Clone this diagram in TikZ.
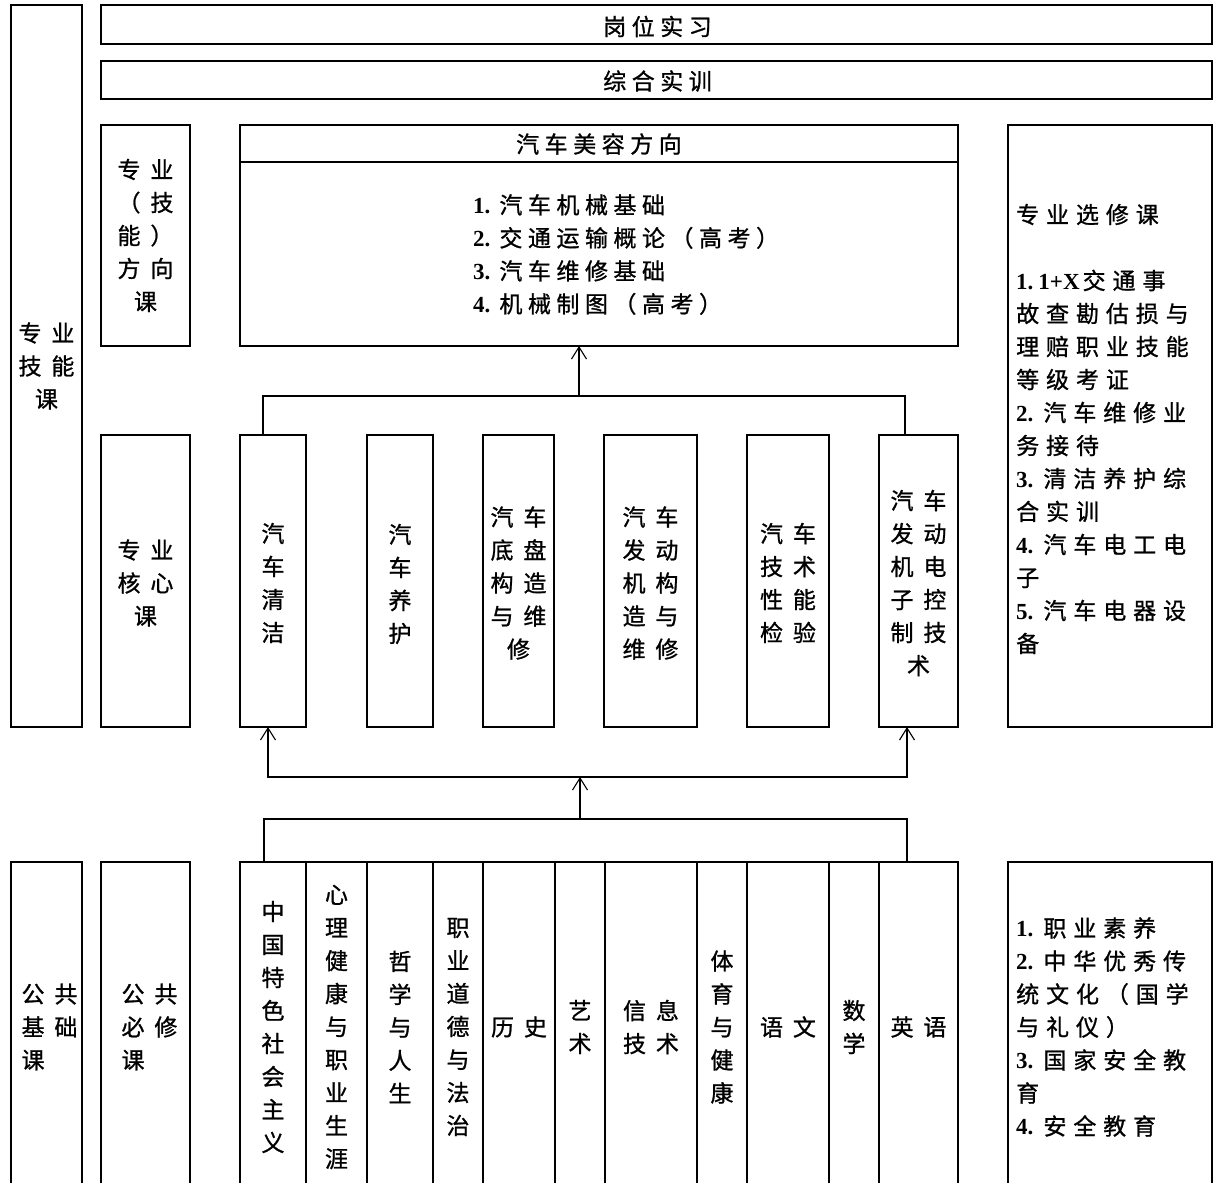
\documentclass[tikz,border=0pt]{standalone}
\usepackage{fontspec}
\usetikzlibrary{arrows.meta}
\newfontfamily\cjkA[LetterSpace=43,FakeBold=1]{Noto Sans CJK SC}
\newfontfamily\cjkB[LetterSpace=24,FakeBold=1]{Noto Sans CJK SC}
\newfontfamily\cjkC[LetterSpace=30,FakeBold=1]{Noto Sans CJK SC}
\newfontfamily\numfont{Liberation Serif}
\newcommand\nm[2]{{\numfont\bfseries #1}\kern#2pt}
\begin{document}
\begin{tikzpicture}[x=1pt,y=-1pt,
 box/.style={draw, line width=1.1pt, inner sep=0pt, outer sep=0pt, anchor=north west},
 tA/.style={font=\cjkA\fontsize{23}{33}\selectfont, align=center, inner sep=0pt},
 tAL/.style={tA, align=left},
 tB/.style={font=\cjkB\fontsize{23}{33}\selectfont, align=center, inner sep=0pt},
 tBL/.style={tB, align=left, anchor=west},
 tC/.style={font=\cjkC\fontsize{23}{33}\selectfont, align=left, inner sep=0pt, anchor=west},
 conn/.style={line width=1.1pt},
 arr/.style={conn, -{Straight Barb[length=12pt,width=15pt]}}
]
\useasboundingbox (0,0) rectangle (1214,1182);
\clip (0,0) rectangle (1214,1182);
% boxes
\node[box, minimum width=71pt, minimum height=722pt] (zyjn) at (11,5) {};
\node[box, minimum width=1111pt, minimum height=39pt] (gwsx) at (101,5) {};
\node[box, minimum width=1111pt, minimum height=38pt] (zhsx) at (101,61) {};
\node[box, minimum width=89pt, minimum height=221pt] (fxk) at (101,125) {};
\node[box, minimum width=718pt, minimum height=221pt] (mrfx) at (240,125) {};
\node[box, minimum width=204pt, minimum height=602pt] (xxk) at (1008,125) {};
\node[box, minimum width=89pt, minimum height=292pt] (hxk) at (101,435) {};
\node[box, minimum width=66pt, minimum height=292pt] (c1) at (240,435) {};
\node[box, minimum width=66pt, minimum height=292pt] (c2) at (367,435) {};
\node[box, minimum width=71pt, minimum height=292pt] (c3) at (483,435) {};
\node[box, minimum width=93pt, minimum height=292pt] (c4) at (604,435) {};
\node[box, minimum width=82pt, minimum height=292pt] (c5) at (747,435) {};
\node[box, minimum width=79pt, minimum height=292pt] (c6) at (879,435) {};
\node[box, minimum width=71pt, minimum height=330pt] (ggjc) at (11,862) {};
\node[box, minimum width=89pt, minimum height=330pt] (ggbx) at (101,862) {};
\node[box, minimum width=66pt, minimum height=330pt] (b1) at (240,862) {};
\node[box, minimum width=61pt, minimum height=330pt] (b2) at (306,862) {};
\node[box, minimum width=66pt, minimum height=330pt] (b3) at (367,862) {};
\node[box, minimum width=50pt, minimum height=330pt] (b4) at (433,862) {};
\node[box, minimum width=72pt, minimum height=330pt] (b5) at (483,862) {};
\node[box, minimum width=50pt, minimum height=330pt] (b6) at (555,862) {};
\node[box, minimum width=92pt, minimum height=330pt] (b7) at (605,862) {};
\node[box, minimum width=50pt, minimum height=330pt] (b8) at (697,862) {};
\node[box, minimum width=82pt, minimum height=330pt] (b9) at (747,862) {};
\node[box, minimum width=50pt, minimum height=330pt] (b10) at (829,862) {};
\node[box, minimum width=79pt, minimum height=330pt] (b11) at (879,862) {};
\node[box, minimum width=204pt, minimum height=330pt] (xb) at (1008,862) {};
% divider in direction box
\draw[conn] ([yshift=-37pt]mrfx.north west) -- ([yshift=-37pt]mrfx.north east);
% texts
\node[tB] (t-gwsx) at ([xshift=1pt,yshift=-2pt]gwsx.center) {岗位实习};
\node[tB] (t-zhsx) at ([xshift=1pt,yshift=-1pt]zhsx.center) {综合实训};
\node[tB] (t-mrfx) at ([yshift=-19pt]mrfx.north) {汽车美容方向};
\node[tBL] (t-mrlist) at ([xshift=233pt,yshift=-19pt]mrfx.west) {\nm{1.}{9}汽车机械基础\\\nm{2.}{9}交通运输概论（高考）\\\nm{3.}{9}汽车维修基础\\\nm{4.}{9}机械制图（高考）};
\node[tA] (t-zyjn) at (zyjn.center) {专业\\技能\\课};
\node[tA] (t-fxk) at (fxk.center) {专业\\（技\\能）\\方向\\课};
\node[tA] (t-hxk) at ([yshift=-2pt]hxk.center) {专业\\核心\\课};
\node[tA] (t-c1) at ([yshift=-2pt]c1.center) {汽\\车\\清\\洁};
\node[tA] (t-c2) at ([yshift=-3pt]c2.center) {汽\\车\\养\\护};
\node[tA] (t-c3) at ([yshift=-2pt]c3.center) {汽车\\底盘\\构造\\与维\\修};
\node[tA] (t-c4) at ([yshift=-2pt]c4.center) {汽车\\发动\\机构\\造与\\维修};
\node[tA] (t-c5) at ([yshift=-2pt]c5.center) {汽车\\技术\\性能\\检验};
\node[tA] (t-c6) at ([yshift=-2pt]c6.center) {汽车\\发动\\机电\\子控\\制技\\术};
\node[tC] (t-xxk) at ([xshift=8pt,yshift=-3pt]xxk.west) {专业选修课\\[33pt]\nm{1.}{5}\nm{1+X}{3}交通事\\故查勘估损与\\理赔职业技能\\等级考证\\\nm{2.}{10}汽车维修业\\务接待\\\nm{3.}{10}清洁养护综\\合实训\\\nm{4.}{10}汽车电工电\\子\\\nm{5.}{10}汽车电器设\\备};
\node[tAL] (t-ggjc) at ([xshift=3pt]ggjc.center) {公共\\基础\\课};
\node[tAL] (t-ggbx) at ([xshift=4pt]ggbx.center) {公共\\必修\\课};
\node[tA] (t-b1) at (b1.center) {中\\国\\特\\色\\社\\会\\主\\义};
\node[tA] (t-b2) at (b2.center) {心\\理\\健\\康\\与\\职\\业\\生\\涯};
\node[tA] (t-b3) at (b3.center) {哲\\学\\与\\人\\生};
\node[tA] (t-b4) at (b4.center) {职\\业\\道\\德\\与\\法\\治};
\node[tA] (t-b5) at (b5.center) {历史};
\node[tA] (t-b6) at (b6.center) {艺\\术};
\node[tA] (t-b7) at (b7.center) {信息\\技术};
\node[tA] (t-b8) at (b8.center) {体\\育\\与\\健\\康};
\node[tA] (t-b9) at (b9.center) {语文};
\node[tA] (t-b10) at (b10.center) {数\\学};
\node[tA] (t-b11) at (b11.center) {英语};
\node[tC] (t-xb) at ([xshift=8pt]xb.west) {\nm{1.}{10}职业素养\\\nm{2.}{10}中华优秀传\\统文化（国学\\与礼仪）\\\nm{3.}{10}国家安全教\\育\\\nm{4.}{10}安全教育};
% connectors
\coordinate (j1) at (579,396);
\coordinate (j2) at (580,819);
\coordinate (j3) at (580,777);
\draw[conn] ([xshift=-10pt]c1.north) |- (j1) -| ([xshift=-13.5pt]c6.north);
\draw[arr] (j1) -- (mrfx.south -| j1);
\draw[conn] ([xshift=-9pt]b1.north) |- (j2) -| ([xshift=-11.5pt]b11.north);
\draw[arr] (j2) -- (j3);
\draw[arr] (j3) -| ([xshift=-5pt]c1.south);
\draw[arr] (j3) -| ([xshift=-11.5pt]c6.south);
\end{tikzpicture}
\end{document}
